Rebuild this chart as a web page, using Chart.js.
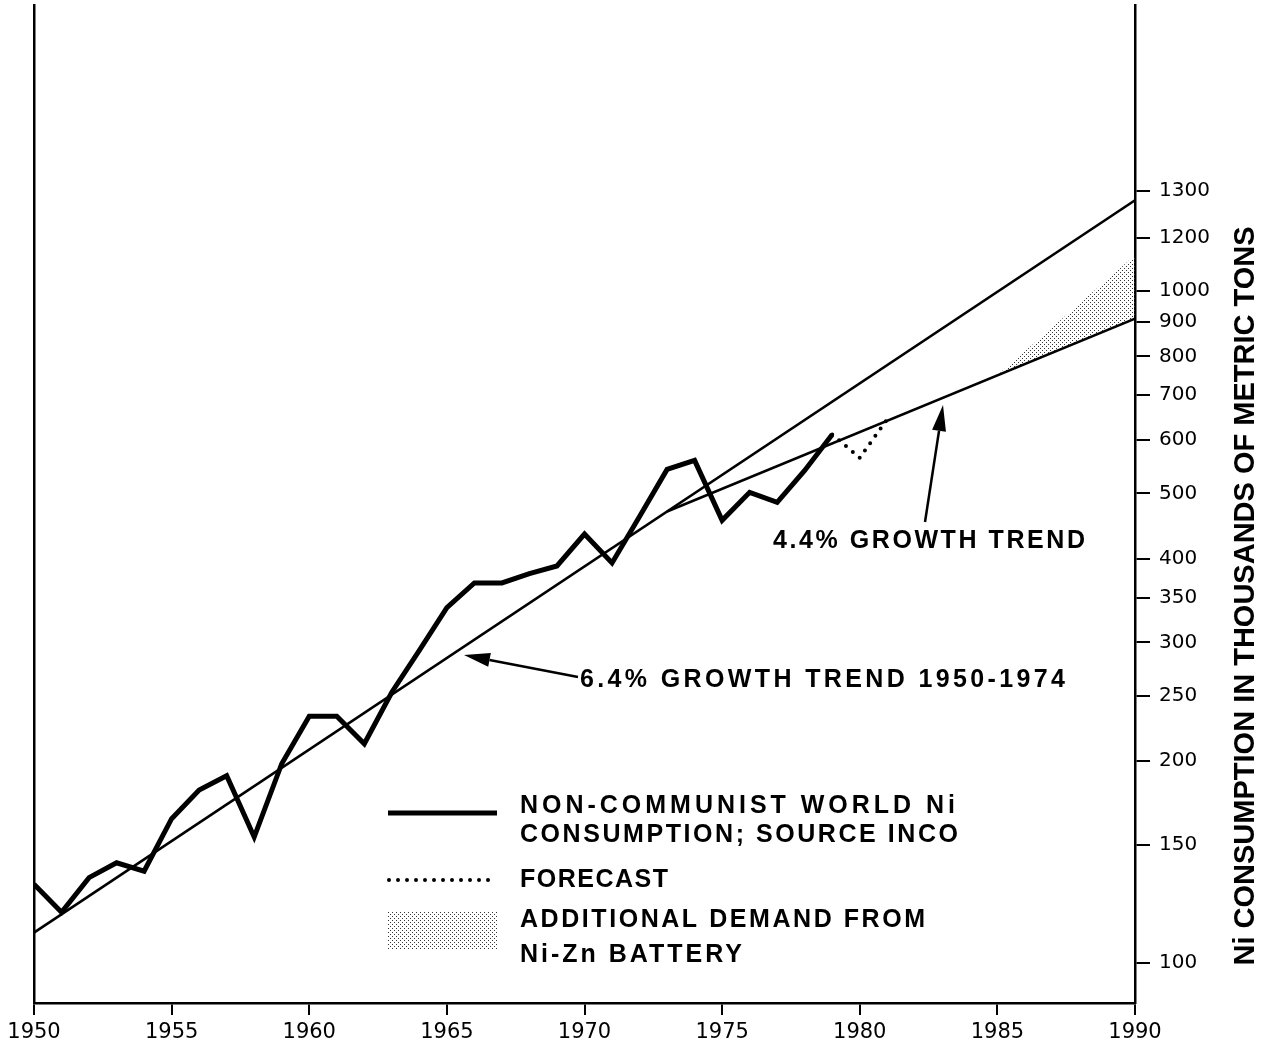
<!DOCTYPE html>
<html>
<head>
<meta charset="utf-8">
<title>Ni consumption</title>
<script src="https://cdn.jsdelivr.net/npm/chart.js@4.4.1/dist/chart.umd.min.js"></script>
<style>
    html, body { margin: 0; padding: 0; background: #fff; }
    #ni-wrap { position: relative; width: 1276px; height: 1052px; }
</style>
</head>
<body>
<div id="ni-wrap"><canvas id="niChart"></canvas></div>
<script>
// Non-communist world Ni consumption (thousands of metric tons)
const years = [1950, 1951, 1952, 1953, 1954, 1955, 1956, 1957, 1958, 1959,
               1960, 1961, 1962, 1963, 1964, 1965, 1966, 1967, 1968, 1969,
               1970, 1971, 1972, 1973, 1974, 1975, 1976, 1977, 1978, 1979];
const consumption = [131, 119, 134, 141, 137, 164, 181, 190, 154, 198,
                     233, 233, 212, 253, 292, 338, 368, 368, 380, 390,
                     435, 394, 462, 543, 560, 456, 502, 485, 541, 612];

const forecastYears = [1979, 1980, 1981];
const forecast = [612, 565, 645];

// growth trend lines (straight on the log axis)
const trend64Years = [1950, 1990];
const trend64 = [111, 1366];
const trend44Years = [1973, 1990];
const trend44 = [470, 910];

// extra demand from Ni-Zn battery, shaded above the 4.4% line
const batteryYears = [1985, 1990];
const batteryTop = [750, 1131];
const batteryBase = [750, 910];

const xTicks = [1950, 1955, 1960, 1965, 1970, 1975, 1980, 1985, 1990];
const yTickLabels = ['100', '150', '200', '250', '300', '350', '400', '500',
                     '600', '700', '800', '900', '1000', '1200', '1300'];
// where each label sits on the log axis; the printed '1300' mark is higher than a true 1300
const yTickValues = [100, 150, 200, 250, 300, 350, 400, 500,
                     600, 700, 800, 900, 1000, 1200, 1410];

(function () {
    'use strict';

    const TEXT_FONT = 'bold 25px "Liberation Sans", Arial, sans-serif';

    const NiChart = {
        init: function () {
            const canvas = document.getElementById('niChart');
            if (!canvas) return;
            this.pattern = this.makeStipple();
            this.draw(canvas);
        },

        makeStipple: function () {
            const tile = document.createElement('canvas');
            tile.width = 4;
            tile.height = 4;
            const g = tile.getContext('2d');
            g.fillStyle = '#333';
            g.fillRect(0, 0, 1, 1);
            g.fillRect(2, 2, 1, 1);
            return g.createPattern(tile, 'repeat');
        },

        points: function (xs, ys) {
            return xs.map((x, i) => ({ x: x, y: ys[i] }));
        },

        drawArrow: function (ctx, x1, y1, x2, y2) {
            const a = Math.atan2(y2 - y1, x2 - x1);
            const len = 26, half = 7;
            const bx = x2 - Math.cos(a) * len, by = y2 - Math.sin(a) * len;
            ctx.beginPath();
            ctx.moveTo(x1, y1);
            ctx.lineTo(bx, by);
            ctx.lineWidth = 2.5;
            ctx.stroke();
            ctx.beginPath();
            ctx.moveTo(x2, y2);
            ctx.lineTo(bx + Math.sin(a) * half, by - Math.cos(a) * half);
            ctx.lineTo(bx - Math.sin(a) * half, by + Math.cos(a) * half);
            ctx.closePath();
            ctx.fill();
        },

        // spread the letters so the line spans the same width as the printed one
        text: function (ctx, str, x, y, width) {
            ctx.font = TEXT_FONT;
            ctx.letterSpacing = '0px';
            const w = ctx.measureText(str).width;
            const gap = Math.max(0, (width - w) / (str.length - 1));
            ctx.letterSpacing = gap + 'px';
            ctx.textAlign = 'left';
            ctx.textBaseline = 'middle';
            ctx.fillText(str, x, y);
            ctx.letterSpacing = '0px';
        },

        draw: function (canvas) {
            const self = this;

            // labels, arrows, legend and the axis title
            const annotations = {
                id: 'annotations',
                afterDraw: function (chart) {
                    const ctx = chart.ctx;
                    ctx.save();
                    ctx.fillStyle = '#000';
                    ctx.strokeStyle = '#000';

                    self.drawArrow(ctx, 578, 677, 464, 655);
                    self.text(ctx, '6.4% GROWTH TREND 1950-1974', 580, 680, 485);
                    self.drawArrow(ctx, 925, 522, 943, 405);
                    self.text(ctx, '4.4% GROWTH TREND', 773, 541, 312);

                    // legend
                    ctx.lineWidth = 5;
                    ctx.beginPath();
                    ctx.moveTo(388, 813);
                    ctx.lineTo(497, 813);
                    ctx.stroke();
                    ctx.lineWidth = 4;
                    ctx.lineCap = 'round';
                    ctx.setLineDash([0, 9]);
                    ctx.beginPath();
                    ctx.moveTo(389, 880);
                    ctx.lineTo(497, 880);
                    ctx.stroke();
                    ctx.setLineDash([]);
                    ctx.lineCap = 'butt';
                    ctx.fillStyle = self.pattern;
                    ctx.fillRect(388, 912, 110, 37);
                    ctx.fillStyle = '#000';

                    self.text(ctx, 'NON-COMMUNIST WORLD Ni', 520, 806, 435);
                    self.text(ctx, 'CONSUMPTION; SOURCE INCO', 520, 835, 438);
                    self.text(ctx, 'FORECAST', 520, 880, 148);
                    self.text(ctx, 'ADDITIONAL DEMAND FROM', 520, 920, 405);
                    self.text(ctx, 'Ni-Zn BATTERY', 520, 955, 222);

                    // y axis title, reading bottom to top
                    ctx.translate(1246, 596);
                    ctx.rotate(-Math.PI / 2);
                    ctx.font = 'bold 29px "Liberation Sans", Arial, sans-serif';
                    ctx.textAlign = 'center';
                    ctx.textBaseline = 'middle';
                    ctx.fillText('Ni CONSUMPTION IN THOUSANDS OF METRIC TONS', 0, 0);
                    ctx.restore();
                }
            };

            const lineBase = { pointRadius: 0, fill: false, tension: 0, borderColor: '#000' };

            new Chart(canvas, {
                type: 'line',
                data: {
                    datasets: [
                        Object.assign({}, lineBase, {
                            label: 'Consumption',
                            data: this.points(years, consumption),
                            borderWidth: 5,
                            borderJoinStyle: 'miter'
                        }),
                        Object.assign({}, lineBase, {
                            label: 'Forecast',
                            data: this.points(forecastYears, forecast),
                            borderWidth: 4,
                            borderDash: [0, 9],
                            borderCapStyle: 'round'
                        }),
                        Object.assign({}, lineBase, {
                            label: '6.4% trend',
                            data: this.points(trend64Years, trend64),
                            borderWidth: 2.5
                        }),
                        Object.assign({}, lineBase, {
                            label: '4.4% trend',
                            data: this.points(trend44Years, trend44),
                            borderWidth: 2.5
                        }),
                        Object.assign({}, lineBase, {
                            label: 'Ni-Zn battery',
                            data: this.points(batteryYears, batteryTop),
                            borderWidth: 0,
                            backgroundColor: this.pattern,
                            fill: '+1'
                        }),
                        Object.assign({}, lineBase, {
                            label: 'battery base',
                            data: this.points(batteryYears, batteryBase),
                            borderWidth: 0
                        })
                    ]
                },
                options: {
                    responsive: true,
                    maintainAspectRatio: false,
                    animation: false,
                    layout: { autoPadding: false, padding: { left: 34, top: 5, right: 0, bottom: 0 } },
                    plugins: {
                        legend: { display: false },
                        tooltip: { enabled: false }
                    },
                    scales: {
                        x: {
                            type: 'linear',
                            position: 'bottom',
                            min: 1950,
                            max: 1990,
                            afterBuildTicks: function (s) { s.ticks = xTicks.map(v => ({ value: v })); },
                            afterFit: function (s) {
                                s.height = 49;
                                s.paddingLeft = 0;
                                s.paddingRight = 0;
                            },
                            grid: { drawOnChartArea: false, color: '#000', lineWidth: 2, tickLength: 12 },
                            border: { color: '#000', width: 2.5 },
                            ticks: {
                                color: '#000',
                                font: { family: 'DejaVu Sans', size: 21 },
                                padding: 5,
                                maxRotation: 0,
                                autoSkip: false,
                                callback: function (v) { return String(v); }
                            }
                        },
                        y: {
                            type: 'logarithmic',
                            position: 'right',
                            min: 87.2,
                            max: 2667,
                            bounds: 'data',
                            afterBuildTicks: function (s) { s.ticks = yTickValues.map(v => ({ value: v })); },
                            afterFit: function (s) {
                                s.width = 141;
                                s.paddingTop = 0;
                                s.paddingBottom = 0;
                            },
                            grid: { drawOnChartArea: false, color: '#000', lineWidth: 2, tickLength: 15 },
                            border: { color: '#000', width: 2.5 },
                            ticks: {
                                color: '#000',
                                font: { family: 'DejaVu Sans', size: 20 },
                                padding: 9,
                                autoSkip: false,
                                callback: function (v, i) { return yTickLabels[i]; }
                            }
                        },
                        yLeft: {
                            position: 'left',
                            afterFit: function (s) {
                                s.width = 0;
                                s.paddingTop = 0;
                                s.paddingBottom = 0;
                            },
                            grid: { display: false },
                            border: { display: true, color: '#000', width: 2.5 },
                            ticks: { display: false }
                        }
                    }
                },
                plugins: [annotations]
            });
        }
    };

    NiChart.init();
})();
</script>
</body>
</html>
